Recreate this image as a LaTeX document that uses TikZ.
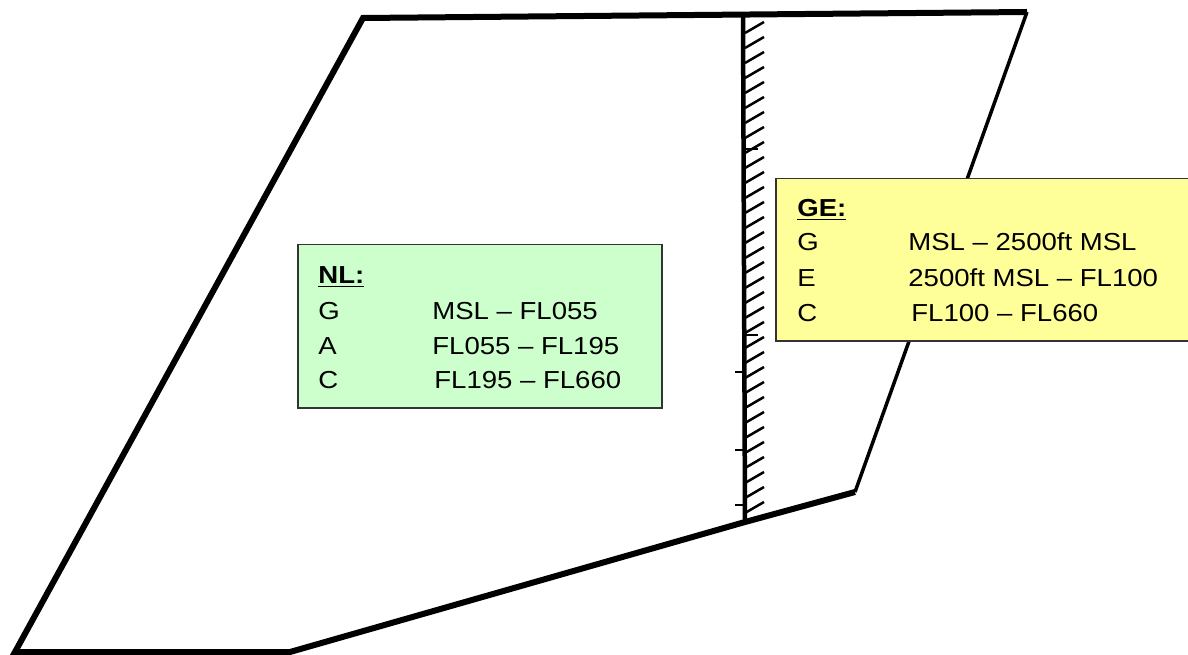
\documentclass[tikz,border=0pt]{standalone}
\usepackage{fontspec}
\setmainfont{Liberation Sans}
\definecolor{nlgreen}{HTML}{CCFFCC}
\definecolor{geyellow}{HTML}{FFFF99}
\definecolor{boxline}{HTML}{333333}
\newcommand{\wide}[1]{\scalebox{1.12}[1]{#1}}

\begin{document}
\begin{tikzpicture}[x=0.2mm, y=-0.2mm,
    edge/.style={line width=1.2mm, line join=miter},
    box/.style={draw=boxline, line width=0.3mm, anchor=north west, inner sep=0pt},
    txt/.style={anchor=base west, inner sep=0pt, font=\fontsize{14}{17}\selectfont}]
  \useasboundingbox (0,0) rectangle (1188,655);
  % airspace outline
  \coordinate (bl) at (15,652);
  \coordinate (bm) at (290,652);
  \coordinate (bx) at (745,522);
  \coordinate (br) at (855,492);
  \coordinate (tr) at (1027,12);
  \coordinate (tl) at (363,18);
  \coordinate (bt) at (743,14);
  \draw[edge] (br) -- (bx) -- (bm) -- (bl) -- (tl) -- (tr);
  \draw[line width=0.7mm] (tr) -- (br);
  % border with hatching
  \draw[line width=0.9mm] (bt) -- (bx);
  \foreach \y in {22,37,...,508}
    \draw[line width=0.5mm] (745,\y+11) -- (764,\y);
  \foreach \y in {149,335}
    \draw[line width=0.4mm] (743,\y) -- (758,\y);
  \foreach \y in {372,450,505}
    \draw[line width=0.4mm] (735,\y) -- (743,\y);
  % NL box
  \node[box, fill=nlgreen, minimum width=72.8mm, minimum height=32.6mm] (nl) at (297,244) {};
  \node[txt] (nlt) at ([xshift=4.2mm,yshift=-8mm]nl.north west) {\wide{\underline{\textbf{NL:}}}};
  \node[txt] (nlg) at ([xshift=4.2mm,yshift=-15.2mm]nl.north west) {\wide{G}};
  \node[txt] (nlgv) at ([xshift=27mm,yshift=-15.2mm]nl.north west) {\wide{MSL – FL055}};
  \node[txt] (nla) at ([xshift=4.2mm,yshift=-22mm]nl.north west) {\wide{A}};
  \node[txt] (nlav) at ([xshift=27mm,yshift=-22mm]nl.north west) {\wide{FL055 – FL195}};
  \node[txt] (nlc) at ([xshift=4.2mm,yshift=-28.8mm]nl.north west) {\wide{C}};
  \node[txt] (nlcv) at ([xshift=27.4mm,yshift=-28.8mm]nl.north west) {\wide{FL195 – FL660}};
  % GE box
  \node[box, fill=geyellow, minimum width=84mm, minimum height=32.4mm] (ge) at (775,178) {};
  \node[txt] (get) at ([xshift=4.4mm,yshift=-7.8mm]ge.north west) {\wide{\underline{\textbf{GE:}}}};
  \node[txt] (geg) at ([xshift=4.4mm,yshift=-14.6mm]ge.north west) {\wide{G}};
  \node[txt] (gegv) at ([xshift=26.6mm,yshift=-14.6mm]ge.north west) {\wide{MSL – 2500ft MSL}};
  \node[txt] (gee) at ([xshift=4.4mm,yshift=-21.6mm]ge.north west) {\wide{E}};
  \node[txt] (geev) at ([xshift=26.6mm,yshift=-21.6mm]ge.north west) {\wide{2500ft MSL – FL100}};
  \node[txt] (gec) at ([xshift=4.4mm,yshift=-28.6mm]ge.north west) {\wide{C}};
  \node[txt] (gecv) at ([xshift=27.2mm,yshift=-28.6mm]ge.north west) {\wide{FL100 – FL660}};
\end{tikzpicture}
\end{document}
